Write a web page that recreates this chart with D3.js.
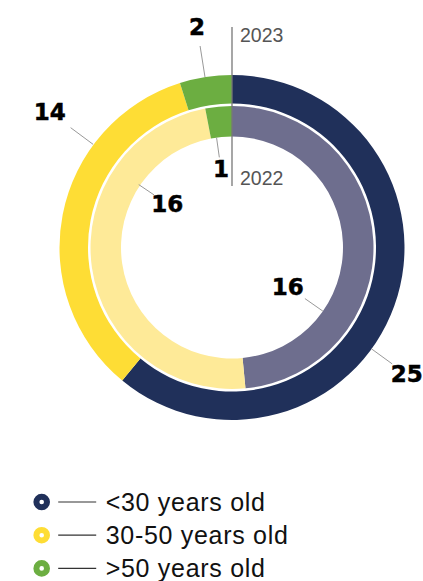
<!DOCTYPE html>
<html>
<head>
<meta charset="utf-8">
<script src="https://cdn.jsdelivr.net/npm/d3@7"></script>
<style>
  html, body { margin: 0; padding: 0; background: #fff; }
  svg { display: block; }
</style>
</head>
<body>
<svg id="chart" width="423" height="581"></svg>
<script>
  // === Datos ===
  const groups = ['<30 years old', '30-50 years old', '>50 years old'];
  const values2023 = [25, 14, 2];
  const values2022 = [16, 16, 1];
  const years = ['2023', '2022'];

  const colors2023 = ['#20305a', '#fedd35', '#6cae41'];
  const colors2022 = ['#6e6e8e', '#feea98', '#6cae41'];
  const legendColors = ['#20305a', '#fedd35', '#6cae41'];

  // ángulo (grados) de cada etiqueta
  const labelAngles2023 = [126, 306.6, 351];
  const labelAngles2022 = [125, 304, 352];

  // === Geometría ===
  const svg = d3.select('#chart');
  const cx = 232, cy = 247.5;
  const outer = { r0: 144, r1: 172.5 };
  const inner = { r0: 111, r1: 141.5 };

  const g = svg.append('g').attr('transform', `translate(${cx},${cy})`);
  const pie = d3.pie().sort(null).value(d => d);
  const rad = d => d * Math.PI / 180;
  const pt = (a, r) => [r * Math.sin(rad(a)), -r * Math.cos(rad(a))];

  function ring(values, colors, radii, cls) {
    const arc = d3.arc().innerRadius(radii.r0).outerRadius(radii.r1);
    g.append('g').attr('class', cls)
      .selectAll('path')
      .data(pie(values))
      .join('path')
      .attr('d', arc)
      .attr('fill', (d, i) => colors[i]);
  }
  ring(values2023, colors2023, outer, 'ring2023');
  ring(values2022, colors2022, inner, 'ring2022');

  // línea vertical de año
  g.append('line')
    .attr('x1', 0).attr('x2', 0)
    .attr('y1', 27 - cy).attr('y2', 186 - cy)
    .attr('stroke', '#777').attr('stroke-width', 1.3);

  g.append('text').text(years[0])
    .attr('x', 8).attr('y', 42 - cy)
    .attr('font-family', 'Liberation Sans, Arial, sans-serif')
    .attr('font-size', 19.5).attr('fill', '#555');
  g.append('text').text(years[1])
    .attr('x', 8).attr('y', 185 - cy)
    .attr('font-family', 'Liberation Sans, Arial, sans-serif')
    .attr('font-size', 19.5).attr('fill', '#555');

  // === Etiquetas ===
  function labels(values, angles, lineFrom, lineTo, textR) {
    values.forEach((v, i) => {
      const a = angles[i];
      const [x1, y1] = pt(a, lineFrom[i]);
      const [x2, y2] = pt(a, lineTo[i]);
      g.append('line')
        .attr('x1', x1).attr('y1', y1).attr('x2', x2).attr('y2', y2)
        .attr('stroke', '#999').attr('stroke-width', 1);
      const [tx, ty] = pt(a, textR[i]);
      g.append('text').text(v)
        .attr('x', tx).attr('y', ty)
        .attr('text-anchor', 'middle')
        .attr('dominant-baseline', 'central')
        .attr('font-family', 'DejaVu Sans, Verdana, sans-serif')
        .attr('font-weight', 'bold')
        .attr('font-size', 23).attr('fill', '#000')
        .attr('stroke', '#000').attr('stroke-width', 0.5);
    });
  }
  labels(values2023, labelAngles2023, [172.5, 173, 172.5], [198, 201, 204], [216, 227, 223]);
  labels(values2022, labelAngles2022, [111, 112.5, 111], [89, 94, 91], [68, 78, 79]);

  // === Leyenda ===
  const leg = svg.append('g').attr('transform', 'translate(41.7,502)');
  const rows = leg.selectAll('g').data(groups).join('g')
    .attr('transform', (d, i) => `translate(0,${i * 33.2})`);
  rows.append('circle').attr('r', 5.3).attr('fill', '#fff')
    .attr('stroke', (d, i) => legendColors[i]).attr('stroke-width', 6);
  rows.append('line').attr('x1', 16.5).attr('x2', 54.5).attr('y1', 0).attr('y2', 0)
    .attr('stroke', '#333').attr('stroke-width', 1.2);
  rows.append('text').text(d => d)
    .attr('x', 64).attr('y', 0)
    .attr('dominant-baseline', 'central')
    .attr('font-family', 'Liberation Sans, Arial, sans-serif')
    .attr('font-size', 25).attr('letter-spacing', 0.7).attr('fill', '#111');
</script>
</body>
</html>
